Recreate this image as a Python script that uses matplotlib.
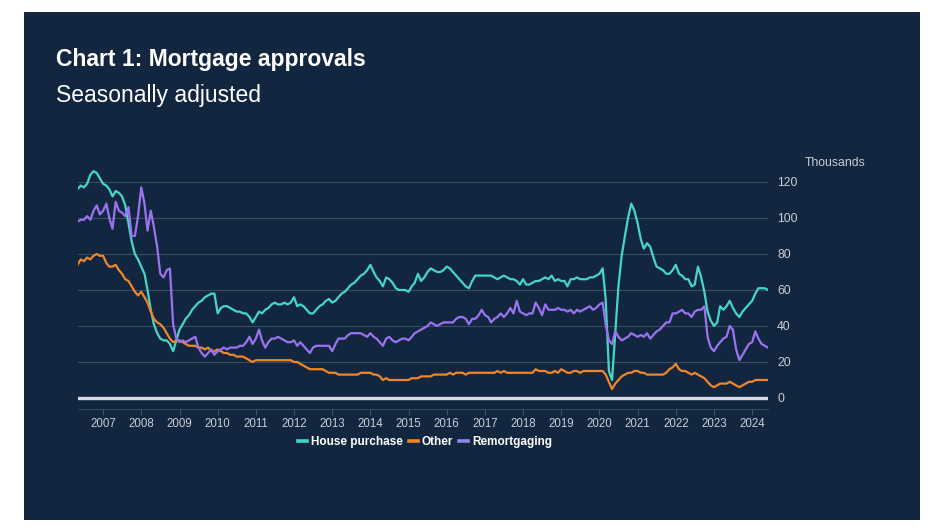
import matplotlib
matplotlib.use("Agg")
import matplotlib.pyplot as plt
from matplotlib.patches import Rectangle
from matplotlib.lines import Line2D
import pandas as pd

# ---------------- data (thousands, monthly, seasonally adjusted) ----------------
start_month = "2006-05-01"

house_purchase = [
    116, 118, 117, 119, 124, 126, 125, 122, 119, 118, 116, 112, 115, 114, 112, 107, 97, 87, 80, 77,
    73, 69, 60, 49, 41, 36, 33, 32, 32, 30, 26, 32, 38, 41, 44, 46, 49, 51, 53, 54,
    56, 57, 58, 58,
    47, 50, 51, 51, 50, 49, 48, 48, 47, 47, 45, 42, 45, 48, 47, 49, 50, 52, 53, 52,
    52, 53, 52, 53, 56, 51, 52, 51, 49, 47, 47, 49, 51, 52, 54, 55, 53, 54, 56, 58,
    59, 61, 63, 64, 66, 68,
    69, 71, 74, 70, 67, 65, 62, 67, 66, 64, 61, 60, 60, 60, 59, 62, 64, 69, 65, 67,
    70, 72, 71, 70, 70, 71, 73, 72, 70, 68, 66, 64, 62, 61, 65, 68, 68, 68, 68, 68,
    68, 67, 66, 67,
    68, 67, 66, 66, 65, 63, 66, 63, 63, 64, 65, 65, 66, 67, 66, 68, 65, 66, 65, 65,
    62, 66, 66, 67, 66, 66, 66, 67, 67, 68, 69, 72, 55, 15, 10, 36, 62, 79, 90, 100,
    108, 104,
    97, 88, 83, 86, 84, 78, 73, 72, 71, 69, 69, 71, 74, 69, 68, 66, 66, 62, 63, 73,
    67, 59, 48, 43, 40, 42, 51, 49, 51, 54, 50, 47, 45, 48, 50, 52, 54, 58, 61, 61,
    61, 60,
]

other = [
    74, 77, 76, 78, 77, 79, 80, 79, 79, 75, 73, 73, 74, 71, 69, 66, 65, 62, 59, 57,
    59, 56, 53, 48, 44, 42, 41, 39, 36, 33, 31, 32, 32, 31, 30, 29, 29, 29, 28, 28,
    27, 28, 26, 26,
    27, 26, 25, 25, 24, 24, 23, 23, 23, 22, 21, 20, 21, 21, 21, 21, 21, 21, 21, 21,
    21, 21, 21, 21, 20, 20, 19, 18, 17, 16, 16, 16, 16, 16, 15, 14, 14, 14, 13, 13,
    13, 13, 13, 13, 13, 14,
    14, 14, 14, 13, 13, 12, 10, 11, 10, 10, 10, 10, 10, 10, 10, 11, 11, 11, 12, 12,
    12, 12, 13, 13, 13, 13, 13, 14, 13, 14, 14, 14, 13, 14, 14, 14, 14, 14, 14, 14,
    14, 14, 15, 14,
    15, 14, 14, 14, 14, 14, 14, 14, 14, 14, 16, 15, 15, 15, 14, 14, 15, 14, 16, 15,
    14, 14, 15, 15, 14, 15, 15, 15, 15, 15, 15, 15, 13, 9, 5, 8, 10, 12, 13, 14,
    14, 15,
    15, 14, 14, 13, 13, 13, 13, 13, 13, 14, 16, 17, 19, 16, 15, 15, 14, 13, 14, 13,
    12, 11, 9, 7, 6, 7, 8, 8, 8, 9, 8, 7, 6, 7, 8, 9, 9, 10, 10, 10,
    10, 10,
]

remortgaging = [
    98, 99, 99, 101, 99, 104, 107, 102, 104, 108, 100, 94, 109, 104, 103, 101, 106, 90, 90, 101,
    117, 108, 93, 104, 95, 84, 69, 67, 71, 72, 41, 33, 31, 32, 31, 32, 33, 34, 28, 25,
    23, 25, 27, 24,
    26, 27, 28, 27, 28, 28, 28, 29, 29, 31, 34, 30, 33, 38, 32, 28, 31, 33, 33, 34,
    33, 32, 31, 31, 32, 29, 31, 29, 27, 25, 28, 29, 29, 29, 29, 29, 26, 30, 33, 33,
    33, 35, 36, 36, 36, 36,
    35, 34, 36, 34, 33, 31, 29, 33, 34, 32, 31, 32, 33, 33, 32, 34, 36, 37, 38, 39,
    40, 42, 41, 40, 41, 42, 42, 42, 42, 44, 45, 45, 44, 41, 44, 44, 46, 49, 46, 45,
    42, 44, 45, 47,
    45, 47, 50, 47, 54, 48, 47, 46, 47, 47, 53, 50, 46, 52, 49, 49, 49, 50, 49, 49,
    48, 49, 47, 49, 48, 49, 50, 51, 49, 50, 52, 53, 41, 32, 30, 37, 34, 32, 33, 34,
    36, 35,
    34, 35, 34, 36, 33, 35, 37, 38, 40, 42, 42, 47, 47, 48, 49, 47, 47, 45, 48, 49,
    49, 51, 34, 28, 26, 29, 31, 33, 34, 40, 38, 27, 21, 24, 27, 30, 31, 37, 33, 30,
    29, 28,
]

series_names = ["House purchase", "Other", "Remortgaging"]
year_labels = [str(y) for y in range(2007, 2025)]
y_ticks = [0, 20, 40, 60, 80, 100, 120]

dates = pd.date_range(start_month, periods=len(house_purchase), freq="MS")

# ---------------- style ----------------
W, H = 931, 529
NAVY = "#13263f"
TEAL = "#45d6c6"
ORANGE = "#f0862a"
PURPLE = "#9a73f0"
TXT = "#c9ced8"
GRID = "#3a4c64"
FAM = ["Liberation Sans", "DejaVu Sans"]


def fx(px):
    return px / W


def fy(py):
    return 1 - py / H


fig = plt.figure(figsize=(W / 100, H / 100), dpi=100, facecolor="white")
fig.patches.append(Rectangle((fx(24), fy(520)), fx(920) - fx(24), fy(12) - fy(520),
                             transform=fig.transFigure, facecolor=NAVY, edgecolor="none", zorder=-10))

# axes geometry: value 0 at y=398, 120 at y=182 -> 1.8 px per thousand
y0_px, px_per = 398.0, 1.8
ylo, yhi = -6.1, 132
ax_bottom = y0_px - ylo * px_per
ax_top = y0_px - yhi * px_per
ax_left, ax_right = 77.5, 768.0
ax = fig.add_axes([fx(ax_left), fy(ax_bottom), fx(ax_right) - fx(ax_left), fy(ax_top) - fy(ax_bottom)])
ax.set_zorder(5)
ax.set_facecolor("none")
ax.set_ylim(ylo, yhi)
ax.set_xlim(dates[0], dates[-1])

for v in y_ticks[1:]:
    ax.axhline(v, color=GRID, lw=0.8, zorder=1)
ax.axhline(0, color="#d6dce8", lw=2.4, zorder=4)

ax.plot(dates, house_purchase, color=TEAL, lw=1.6, zorder=3, label=series_names[0], solid_joinstyle="round")
ax.plot(dates, other, color=ORANGE, lw=1.6, zorder=3, label=series_names[1], solid_joinstyle="round")
ax.plot(dates, remortgaging, color=PURPLE, lw=1.6, zorder=3, label=series_names[2], solid_joinstyle="round")

for s in ["top", "left", "right"]:
    ax.spines[s].set_visible(False)
ax.spines["bottom"].set_color("#34475f")
ax.spines["bottom"].set_linewidth(0.8)

ax.yaxis.tick_right()
ax.set_yticks(y_ticks)
ax.set_yticklabels([str(v) for v in y_ticks])
ax.tick_params(axis="y", length=0, pad=6.5, labelsize=8.8, labelcolor=TXT)
for lab in ax.get_yticklabels():
    lab.set_horizontalalignment("left")

xt = [pd.Timestamp(f"{y}-01-01") for y in year_labels]
ax.set_xticks(xt)
ax.set_xticklabels(year_labels)
ax.tick_params(axis="x", length=4, width=0.8, color="#3f526b", pad=2.5, labelsize=8.3, labelcolor=TXT)

for t in ax.get_xticklabels() + ax.get_yticklabels():
    t.set_fontfamily(FAM)

fig.text(fx(56), fy(66), "Chart 1: Mortgage approvals", color="white", fontsize=16.5,
         fontweight="bold", family=FAM, va="baseline", ha="left")
fig.text(fx(56), fy(102), "Seasonally adjusted", color="white", fontsize=16.5,
         family=FAM, va="baseline", ha="left")
fig.text(fx(805), fy(163), "Thousands", color=TXT, fontsize=8.8,
         family=FAM, va="center", ha="left")

handles = [Line2D([], [], color=c, lw=2.6) for c in (TEAL, ORANGE, "#8f86ee")]
leg = fig.legend(handles, series_names, loc="center", bbox_to_anchor=(fx(425), fy(442)), ncol=3,
                 frameon=False, handlelength=0.8, handletextpad=0.3, columnspacing=0.5,
                 prop={"family": FAM, "weight": "bold", "size": 8.5})
for t in leg.get_texts():
    t.set_color("white")

fig.savefig("out.png", dpi=100, facecolor="white")
